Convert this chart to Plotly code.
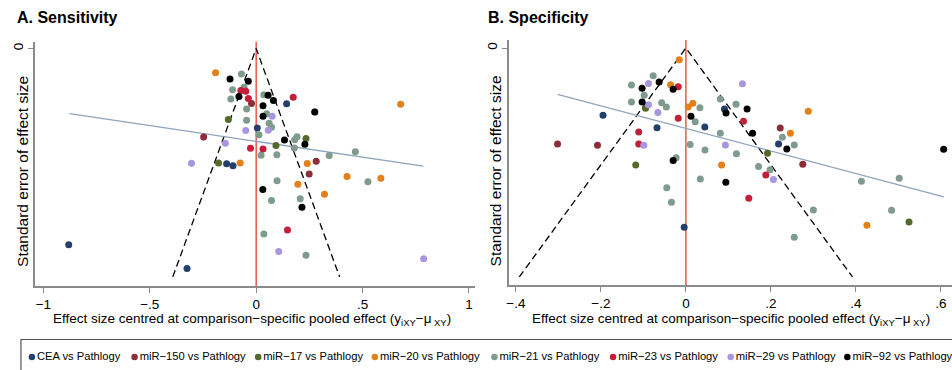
import plotly.graph_objects as go

# ---------------- data ----------------
groups = ["CEA vs Pathlogy", "miR\u2212150 vs Pathlogy", "miR\u221217 vs Pathlogy", "miR\u221220 vs Pathlogy",
          "miR\u221221 vs Pathlogy", "miR\u221223 vs Pathlogy", "miR\u221229 vs Pathlogy", "miR\u221292 vs Pathlogy"]
colors = ["#243f6b", "#8b2e3a", "#55692a", "#e4801a", "#7f9b8d", "#c41e3a", "#a896e0", "#000000"]

# Sensitivity (panel A): centred effect size and standard error, per comparison
sens_x = {
    "CEA": [0.143, 0.005, -0.139, -0.109, -0.881, -0.325],
    "miR150": [-0.022, -0.247, 0.282, 0.249],
    "miR17": [-0.131, 0.234, 0.093, -0.177],
    "miR20": [-0.191, 0.679, -0.075, 0.240, 0.427, 0.586, 0.196, 0.321],
    "miR21": [-0.069, -0.057, -0.111, -0.119, 0.036, -0.045, 0.276, 0.049, -0.045, 0.061, 0.072, 0.013,
              0.192, 0.181, 0.179, 0.023, 0.097, 0.343, 0.466, 0.525, 0.098, 0.072, 0.207, 0.036, 0.234],
    "miR23": [-0.072, -0.049, -0.037, 0.174, -0.027, 0.032, 0.147],
    "miR29": [0.075, -0.049, 0.057, -0.145, -0.304, 0.106, 0.787],
    "miR92": [-0.123, -0.037, -0.081, 0.056, 0.081, 0.032, 0.275, 0.032, 0.133, 0.229, 0.031, 0.215],
}
sens_se = {
    "CEA": [0.0484, 0.0697, 0.1009, 0.1026, 0.1719, 0.1927],
    "miR150": [0.0482, 0.0775, 0.0987, 0.1098],
    "miR17": [0.0621, 0.0788, 0.0849, 0.1002],
    "miR20": [0.0212, 0.0489, 0.1002, 0.1006, 0.1121, 0.1136, 0.1189, 0.1276],
    "miR21": [0.0222, 0.0339, 0.0360, 0.0441, 0.0404, 0.0529, 0.0555, 0.0572, 0.0627, 0.0655, 0.0689, 0.0754,
              0.0772, 0.0798, 0.0871, 0.0934, 0.0930, 0.0936, 0.0904, 0.1167, 0.1158, 0.1331, 0.1316, 0.1625, 0.1810],
    "miR23": [0.0367, 0.0375, 0.0437, 0.0427, 0.0873, 0.0880, 0.1590],
    "miR29": [0.0594, 0.0718, 0.0715, 0.0829, 0.1004, 0.1778, 0.1842],
    "miR92": [0.0266, 0.0287, 0.0421, 0.0410, 0.0454, 0.0500, 0.0555, 0.0594, 0.0800, 0.0838, 0.1234, 0.1390],
}

# Specificity (panel B)
spec_x = {
    "CEA": [-0.195, -0.068, 0.0445, 0.0907, 0.218, -0.004],
    "miR150": [-0.302, -0.208, 0.222, 0.275],
    "miR17": [-0.095, 0.192, -0.118, 0.525],
    "miR20": [-0.0157, -0.036, 0.0054, 0.0164, 0.288, 0.246, 0.084, 0.426],
    "miR21": [-0.077, -0.128, -0.098, -0.128, -0.057, -0.046, 0.033, 0.022, 0.081, 0.118, 0.081, 0.227, 0.255,
              0.010, 0.045, 0.119, -0.023, 0.171, 0.198, 0.034, -0.045, -0.034, 0.300, 0.413, 0.502, 0.484, 0.255],
    "miR23": [-0.018, -0.018, 0.1355, -0.111, -0.111, 0.188, 0.148],
    "miR29": [-0.088, 0.133, -0.088, -0.066, -0.099, 0.093, 0.206],
    "miR92": [-0.063, -0.103, -0.030, -0.103, 0.012, 0.0945, 0.144, 0.157, 0.2375, 0.6066, -0.030, 0.094],
}
spec_se = {
    "CEA": [0.0588, 0.0696, 0.0690, 0.0533, 0.0838, 0.1566],
    "miR150": [0.0838, 0.0850, 0.0699, 0.1016],
    "miR17": [0.0526, 0.0919, 0.1022, 0.1520],
    "miR20": [0.0103, 0.0321, 0.0515, 0.0483, 0.0553, 0.0745, 0.1022, 0.1548],
    "miR21": [0.0243, 0.0323, 0.0412, 0.0472, 0.0478, 0.0515, 0.0521, 0.0645, 0.0445, 0.0492, 0.0744, 0.0779, 0.0847,
              0.0843, 0.0891, 0.0923, 0.0958, 0.1035, 0.1064, 0.1144, 0.1220, 0.1348, 0.1415, 0.1164, 0.1138, 0.1417, 0.1653],
    "miR23": [0.0338, 0.0613, 0.0639, 0.0734, 0.0838, 0.1109, 0.1313],
    "miR29": [0.0310, 0.0313, 0.0495, 0.0563, 0.0850, 0.0847, 0.1148],
    "miR92": [0.0297, 0.0351, 0.0360, 0.0472, 0.0596, 0.0568, 0.0533, 0.0744, 0.0882, 0.0885, 0.0983, 0.1173],
}
keys = ["CEA", "miR150", "miR17", "miR20", "miR21", "miR23", "miR29", "miR92"]

# funnel (pseudo 95% CI) and fitted regression lines
z95 = 1.96
funnel_se_max = 0.2
sens_fit_x = [-0.877, 0.785]
sens_fit_se = [0.057, 0.103]
spec_fit_x = [-0.302, 0.607]
spec_fit_se = [0.0404, 0.130]

sens_ticks = [-1, -0.5, 0, 0.5, 1]
sens_ticktext = ["\u22121", "\u2212.5", "0", ".5", "1"]
spec_ticks = [-0.4, -0.2, 0, 0.2, 0.4, 0.6]
spec_ticktext = ["\u2212.4", "\u2212.2", "0", ".2", ".4", ".6"]

titles = ["A. Sensitivity", "B. Specificity"]
ytitle = "Standard error of effect size"
xtitle = "Effect size centred at comparison\u2212specific pooled effect (y<sub>iXY</sub>\u2212\u03bc<sub> XY</sub>)"

# ---------------- figure ----------------
W, H = 952, 370
FONT = "Liberation Sans"
fig = go.Figure()

for panel, (xs, ses, fx, fse) in enumerate([(sens_x, sens_se, sens_fit_x, sens_fit_se),
                                             (spec_x, spec_se, spec_fit_x, spec_fit_se)]):
    xa = "x" if panel == 0 else "x2"
    ya = "y" if panel == 0 else "y2"
    fig.add_trace(go.Scatter(x=[-z95 * funnel_se_max, 0, z95 * funnel_se_max],
                             y=[funnel_se_max, 0, funnel_se_max], mode="lines",
                             line=dict(color="black", width=1.3, dash="7px,4px"),
                             showlegend=False, hoverinfo="skip", xaxis=xa, yaxis=ya))
    fig.add_trace(go.Scatter(x=fx, y=fse, mode="lines", line=dict(color="#8ea4bd", width=1.3),
                             showlegend=False, hoverinfo="skip", xaxis=xa, yaxis=ya))
    for k, name, col in zip(keys, groups, colors):
        fig.add_trace(go.Scatter(x=xs[k], y=ses[k], mode="markers", name=name,
                                 marker=dict(color=col, size=7, line=dict(width=0)),
                                 showlegend=False, xaxis=xa, yaxis=ya))

# legend row (drawn on a hidden pixel-scaled axis pair so it can sit in one line)
legend_px = [29, 132, 256, 373, 493, 612, 730, 847]
legend_py = 357
fig.add_trace(go.Scatter(x=legend_px, y=[legend_py] * len(legend_px), mode="markers+text",
                         text=groups, textposition="middle right",
                         textfont=dict(family=FONT, size=11.2, color="black"),
                         marker=dict(color=colors, size=6.5, line=dict(width=0)),
                         showlegend=False, hoverinfo="skip", xaxis="x3", yaxis="y3", cliponaxis=False))

axis_common = dict(showline=True, linecolor="#8a8a8a", linewidth=1.5, ticks="outside",
                   tickcolor="#8a8a8a", ticklen=5, tickwidth=1.2, showgrid=False, zeroline=False,
                   tickfont=dict(family=FONT, size=13.5, color="black"))

fig.update_layout(
    width=W, height=H, margin=dict(l=0, r=0, t=0, b=0),
    plot_bgcolor="rgba(0,0,0,0)", paper_bgcolor="white",
    font=dict(family=FONT, color="black"),
    showlegend=False,
    xaxis=dict(domain=[32 / W, 473 / W], range=[-1.04, 1.026], tickvals=sens_ticks, ticktext=sens_ticktext,
               anchor="y", **axis_common),
    yaxis=dict(domain=[1 - 286 / H, 1 - 41.7 / H], range=[0.208, -0.006], tickvals=[0], ticktext=["0"],
               tickangle=-90, anchor="x", **axis_common),
    xaxis2=dict(domain=[507.7 / W, 951.5 / W], range=[-0.416, 0.625], tickvals=spec_ticks, ticktext=spec_ticktext,
                anchor="y2", **axis_common),
    yaxis2=dict(domain=[1 - 285 / H, 1 - 40 / H], range=[0.207, -0.007], tickvals=[0], ticktext=["0"],
                tickangle=-90, anchor="x2", **axis_common),
    xaxis3=dict(domain=[0, 1], range=[0, W], visible=False, fixedrange=True),
    yaxis3=dict(domain=[0, 1], range=[H, 0], visible=False, fixedrange=True, anchor="x3"),
)

# legend frame
fig.add_shape(type="rect", xref="paper", yref="paper", x0=18 / W, x1=1.05, y0=-0.1, y1=1 - 339.5 / H,
              line=dict(color="#555555", width=1.2), fillcolor="rgba(0,0,0,0)")

# vertical reference lines at 0
for xr, yr in [("x", "y domain"), ("x2", "y2 domain")]:
    fig.add_shape(type="line", x0=0, x1=0, y0=0, y1=1, xref=xr, yref=yr,
                  line=dict(color="#e8584a", width=1.5), layer="below")

# titles and axis titles
for t, xp in zip(titles, [12, 485]):
    fig.add_annotation(text="<b>" + t + "</b>", x=xp / W, y=1 - 18 / H, xref="paper", yref="paper",
                       xanchor="left", yanchor="middle", showarrow=False,
                       font=dict(family=FONT, size=16, color="black"))
for xp, yp in [(20, 171), (495, 171)]:
    fig.add_annotation(text=ytitle, x=xp / W, y=1 - yp / H, xref="paper", yref="paper", textangle=-90,
                       xanchor="center", yanchor="middle", showarrow=False,
                       font=dict(family=FONT, size=15.5, color="black"))
for xp in [250, 730]:
    fig.add_annotation(text=xtitle, x=xp / W, y=1 - 319 / H, xref="paper", yref="paper",
                       xanchor="center", yanchor="middle", showarrow=False,
                       font=dict(family=FONT, size=13.5, color="black"))

fig.write_html("out.html")
